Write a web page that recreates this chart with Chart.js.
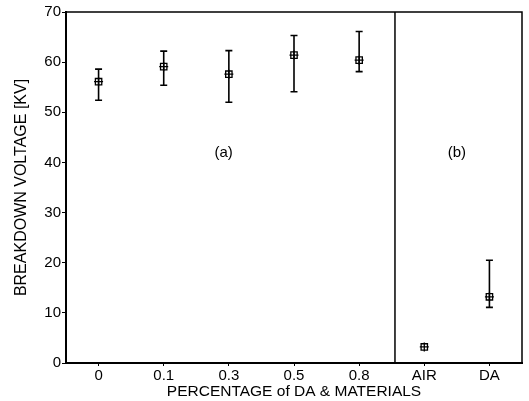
<!DOCTYPE html>
<html>
<head>
<meta charset="utf-8">
<script src="https://cdn.jsdelivr.net/npm/chart.js@4.4.0/dist/chart.umd.min.js"></script>
<style>
  html, body { margin: 0; padding: 0; background: #fff; }
  #wrap { width: 529px; height: 401px; }
</style>
</head>
<body>
<div id="wrap"><canvas id="chart" width="529" height="401"></canvas></div>
<script>
// categories on the x axis
const categories = ['0', '0.1', '0.3', '0.5', '0.8', 'AIR', 'DA'];
// mean breakdown voltage [kV]
const meanVoltage = [56.1, 59.1, 57.6, 61.4, 60.4, 3.2, 13.2];
// error bar limits (null = no bar)
const lowerVoltage = [52.4, 55.4, 52.0, 54.1, 58.1, null, 11.1];
const upperVoltage = [58.6, 62.2, 62.3, 65.3, 66.1, null, 20.5];
// panel labels: text, category position, voltage
const panelLabels = ['(a)', '(b)'];
const panelX = [1.92, 5.5];
const panelY = [41.9, 41.9];

const FONT = '"Liberation Sans", Arial, Helvetica, sans-serif';

const frameAndBars = {
  id: 'frameAndBars',
  afterDatasetsDraw(chart) {
    const { ctx, chartArea, scales } = chart;
    const x = scales.x;
    const y = scales.y;
    ctx.save();
    ctx.strokeStyle = '#000';

    // top and right border of the frame
    ctx.lineWidth = 1.5;
    ctx.beginPath();
    ctx.moveTo(chartArea.left, chartArea.top);
    ctx.lineTo(chartArea.right, chartArea.top);
    ctx.lineTo(chartArea.right, chartArea.bottom);
    ctx.stroke();

    // divider between (a) and (b)
    const divX = x.getPixelForValue(4.55);
    ctx.beginPath();
    ctx.moveTo(divX, chartArea.top);
    ctx.lineTo(divX, chartArea.bottom);
    ctx.stroke();

    // error bars
    ctx.lineWidth = 1.6;
    categories.forEach((_, i) => {
      if (lowerVoltage[i] == null || upperVoltage[i] == null) return;
      const px = x.getPixelForValue(i);
      const top = y.getPixelForValue(upperVoltage[i]);
      const bottom = y.getPixelForValue(lowerVoltage[i]);
      ctx.beginPath();
      ctx.moveTo(px, top);
      ctx.lineTo(px, bottom);
      ctx.moveTo(px - 3.5, top);
      ctx.lineTo(px + 3.5, top);
      ctx.moveTo(px - 3.5, bottom);
      ctx.lineTo(px + 3.5, bottom);
      ctx.stroke();
    });

    // panel labels
    ctx.fillStyle = '#000';
    ctx.font = '15px ' + FONT;
    ctx.textAlign = 'center';
    ctx.textBaseline = 'middle';
    panelLabels.forEach((text, i) => {
      ctx.fillText(text, x.getPixelForValue(panelX[i]), y.getPixelForValue(panelY[i]));
    });
    ctx.restore();
  }
};

new Chart(document.getElementById('chart'), {
  type: 'line',
  data: {
    labels: categories,
    datasets: [
      {
        data: meanVoltage,
        showLine: false,
        pointStyle: 'rect',
        pointRadius: 4.5,
        pointBorderWidth: 1.3,
        pointBorderColor: '#000',
        pointBackgroundColor: 'rgba(0,0,0,0)'
      },
      {
        data: meanVoltage,
        showLine: false,
        pointStyle: 'cross',
        pointRadius: 4.5,
        pointBorderWidth: 1.3,
        pointBorderColor: '#000'
      }
    ]
  },
  options: {
    responsive: false,
    animation: false,
    events: [],
    layout: { padding: { left: 8, right: 7, top: 12, bottom: 0 } },
    plugins: {
      legend: { display: false },
      tooltip: { enabled: false }
    },
    scales: {
      x: {
        type: 'category',
        offset: true,
        afterFit: scale => { scale.height = 38; },
        border: { display: true, color: '#000', width: 2 },
        grid: { display: true, drawOnChartArea: false, drawTicks: true, tickLength: 3, color: '#000', offset: false },
        ticks: { color: '#000', font: { family: FONT, size: 15 }, padding: 1, maxRotation: 0 },
        title: {
          display: true,
          text: 'PERCENTAGE of DA & MATERIALS',
          color: '#000',
          font: { family: FONT, size: 15.5 },
          padding: { top: 0, bottom: 0 }
        }
      },
      y: {
        min: 0,
        max: 70,
        afterFit: scale => { scale.width = 58; },
        border: { display: true, color: '#000', width: 2 },
        grid: { display: true, drawOnChartArea: false, drawTicks: true, tickLength: 4, color: '#000' },
        ticks: { stepSize: 10, color: '#000', font: { family: FONT, size: 15 }, padding: 1 },
        title: {
          display: true,
          text: 'BREAKDOWN VOLTAGE [KV]',
          color: '#000',
          font: { family: FONT, size: 16 },
          padding: { top: 4, bottom: 0 }
        }
      }
    }
  },
  plugins: [frameAndBars]
});
</script>
</body>
</html>
